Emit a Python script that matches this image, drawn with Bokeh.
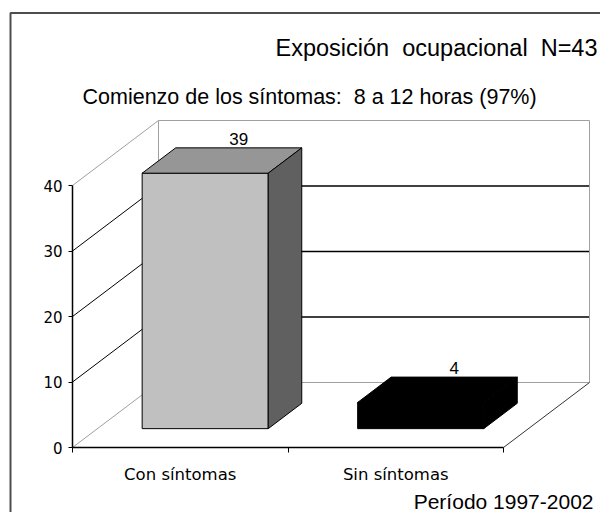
import numpy as np
from bokeh.plotting import figure
from bokeh.models import ColumnDataSource, LinearAxis, FixedTicker, Range1d, Grid
from bokeh.core.properties import value
from bokeh.embed import file_html
from bokeh.resources import INLINE

# ---- data ----
categories = ["Con síntomas", "Sin síntomas"]
counts = [39, 4]
y_ticks = [0, 10, 20, 30, 40]
title_text = "Exposición\u00a0 ocupacional\u00a0 N=43"
subtitle_text = "Comienzo de los síntomas:\u00a0 8 a 12 horas (97%)"
period_text = "Período 1997-2002"
front_colors = ["#c0c0c0", "#000000"]
top_colors = ["#969696", "#000000"]
side_colors = ["#606060", "#000000"]

# ---- layout / style constants ----
W, H = 600, 512
PAGE = 0
ORIG_X, ORIG_Y = 72, 447        # picture pixel of the front axis origin
SX, SY = 215.5, 6.55            # pixels per category / per unit value
DX, DY = 86 / SX, 65 / SY       # depth vector in data units
BAR_W = 0.585
F1, F2 = 0.29, 0.68             # bar front/back depth fraction
Y_MAX = y_ticks[-1]
n_cat = len(categories)


def xd(px):
    return (px - ORIG_X) / SX


def yd(py):
    return (ORIG_Y - py) / SY


p = figure(width=W, height=H, output_backend="svg", toolbar_location=None,
           x_range=Range1d(xd(PAGE), xd(PAGE + W)),
           y_range=Range1d(yd(PAGE + H), yd(PAGE)),
           x_axis_location=None, y_axis_location=None, min_border=0,
           outline_line_color=None, background_fill_color="white",
           border_fill_color="white")
p.center = [r for r in p.center if not isinstance(r, Grid)]

# ---- walls and gridlines ----
gx, gy, gc, gw = [], [], [], []
for t in y_ticks:
    edge = t in (0, Y_MAX)
    col = "#a0a0a0" if edge else "black"
    gx.append([0, DX]); gy.append([t, t + DY]); gc.append(col); gw.append(1)
    gx.append([DX, n_cat + DX]); gy.append([t + DY, t + DY]); gc.append(col); gw.append(1 if edge else 1.6)
# back wall vertical edges
for xe in (DX, n_cat + DX):
    gx.append([xe, xe]); gy.append([DY, Y_MAX + DY]); gc.append("#a0a0a0"); gw.append(1)
# floor right edge
gx.append([n_cat, n_cat + DX]); gy.append([0, DY]); gc.append("#333333"); gw.append(1)
p.multi_line(xs=gx, ys=gy, line_color=gc, line_width=gw)

# ---- 3D bars ----
fx, fy, tx, ty, sx_, sy_ = [], [], [], [], [], []
for i, v in enumerate(counts):
    cx = i + 0.5
    l, r = cx - BAR_W / 2, cx + BAR_W / 2
    a1x, a1y = F1 * DX, F1 * DY
    a2x, a2y = F2 * DX, F2 * DY
    fx.append([l + a1x, r + a1x, r + a1x, l + a1x])
    fy.append([a1y, a1y, v + a1y, v + a1y])
    tx.append([l + a1x, r + a1x, r + a2x, l + a2x])
    ty.append([v + a1y, v + a1y, v + a2y, v + a2y])
    sx_.append([r + a1x, r + a2x, r + a2x, r + a1x])
    sy_.append([a1y, a2y, v + a2y, v + a1y])

p.patches(xs=fx, ys=fy, fill_color=front_colors, line_color="black", line_width=1)
p.patches(xs=tx, ys=ty, fill_color=top_colors, line_color="black", line_width=1)
p.patches(xs=sx_, ys=sy_, fill_color=side_colors, line_color="black", line_width=1)

# value labels
lab = ColumnDataSource(dict(
    x=[i + 0.5 + F2 * DX for i in range(n_cat)],
    y=[v + F2 * DY for v in counts],
    t=[str(v) for v in counts]))
p.text(x="x", y="y", text="t", source=lab, text_align="center",
       text_baseline="bottom", y_offset=-3, text_font=value("Liberation Sans"),
       text_font_size="17px", text_color="black")

# ---- axes ----
yax = LinearAxis(fixed_location=0, bounds=(0, Y_MAX), ticker=FixedTicker(ticks=y_ticks))
yax.axis_line_color = "black"
yax.axis_line_width = 1.5
yax.major_tick_out = 4
yax.major_tick_in = 0
yax.minor_tick_out = 0
yax.minor_tick_in = 0
yax.major_tick_line_color = "black"
yax.major_label_text_font = "DejaVu Sans"
yax.major_label_text_font_size = "15px"
yax.major_label_text_color = "black"
yax.major_label_standoff = 6
p.add_layout(yax, "left")

cat_centers = [i + 0.5 for i in range(n_cat)]
xax = LinearAxis(fixed_location=0, bounds=(0, n_cat),
                 ticker=FixedTicker(ticks=cat_centers, minor_ticks=list(range(n_cat + 1))),
                 major_label_overrides={c: name for c, name in zip(cat_centers, categories)})
xax.axis_line_color = "black"
xax.axis_line_width = 1.5
xax.major_tick_out = 0
xax.major_tick_in = 0
xax.minor_tick_out = 5
xax.minor_tick_in = 0
xax.minor_tick_line_color = "black"
xax.major_label_text_font = "DejaVu Sans"
xax.major_label_text_font_size = "16.5px"
xax.major_label_text_color = "black"
xax.major_label_standoff = 12
p.add_layout(xax, "below")

# ---- texts ----
p.text(x=[xd(597)], y=[yd(47)], text=[title_text], text_align="right",
       text_baseline="alphabetic", text_font=value("Liberation Sans"),
       text_font_size="23.5px", text_color="black")
p.text(x=[xd(82)], y=[yd(96)], text=[subtitle_text], text_align="left",
       text_baseline="alphabetic", text_font=value("Liberation Sans"),
       text_font_size="21.5px", text_color="black")
p.text(x=[xd(593)], y=[yd(501)], text=[period_text], text_align="right",
       text_baseline="alphabetic", text_font=value("Liberation Sans"),
       text_font_size="21px", text_color="black")

# ---- outer frame (left & top) ----
p.line(x=[xd(10), xd(10), xd(PAGE + W)], y=[yd(PAGE + H), yd(12.5), yd(12.5)],
       line_color="#4d4d4d", line_width=2)

open("out.html", "w").write(file_html(p, INLINE))
